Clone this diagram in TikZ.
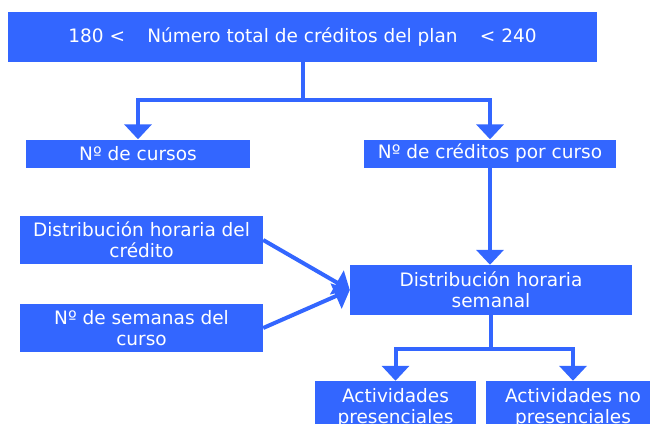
\documentclass[tikz,border=0pt]{standalone}
\usepackage{fontspec}
\setmainfont{DejaVu Sans}
\usetikzlibrary{arrows.meta,calc}
\definecolor{boxblue}{HTML}{3366FF}

\begin{document}
\begin{tikzpicture}[x=1pt,y=-1pt,
        box/.style={fill=boxblue, text=white, align=center, inner sep=0pt,
            font=\fontsize{18.5}{21}\selectfont},
        link/.style={boxblue, line width=4pt,
            -{Triangle[width=27pt,length=15pt]}}]
        \useasboundingbox (0,0) rectangle (650,423);
        % boxes
        \node[box, minimum width=589pt, minimum height=50pt] (plan) at (302.5,37)
            {180 <\hspace{1.2em}Número total de créditos del plan\hspace{1.2em}< 240};
        \node[box, minimum width=224pt, minimum height=28pt] (cursos) at (138,153.5) {Nº de cursos};
        \node[box, minimum width=252pt, minimum height=28pt] (creditos) at (490,153.5) {Nº de créditos por curso};
        \node[box, minimum width=243pt, minimum height=48pt] (horcred) at (141.5,240) {Distribución horaria del\\crédito};
        \node[box, minimum width=243pt, minimum height=48pt] (semanas) at (141.5,328) {Nº de semanas del\\curso};
        \node[box, minimum width=282pt, minimum height=50pt] (semanal) at (491,290) {Distribución horaria\\semanal};
        \node[box, minimum width=161pt, minimum height=54pt] (pres) at (395.5,408) {Actividades\\presenciales};
        \node[box, minimum width=174pt, minimum height=54pt] (nopres) at (573,408) {Actividades no\\presenciales};
        % connectors
        \coordinate (split1) at ($(plan.south)+(0,38)$);
        \draw[link] (plan.south) |- (split1) -| (cursos.north);
        \draw[link] (split1) -| (creditos.north);
        \draw[link] (creditos.south) -- (creditos.south |- semanal.north);
        \draw[link] (horcred.east) -- (semanal.west);
        \draw[link] (semanas.east) -- (semanal.west);
        \coordinate (split2) at ($(semanal.south)+(0,34)$);
        \draw[link] (semanal.south) |- (split2) -| (pres.north);
        \draw[link] (split2) -| (nopres.north);
\end{tikzpicture}
\end{document}
